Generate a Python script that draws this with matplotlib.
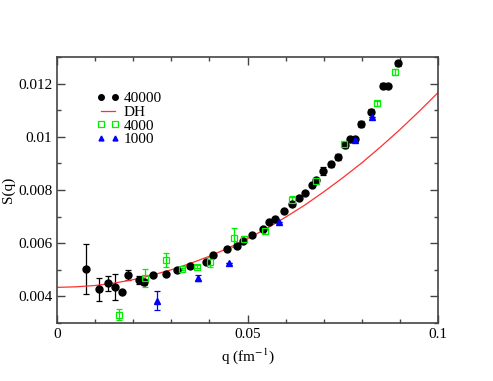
import matplotlib
matplotlib.use("Agg")
import matplotlib.pyplot as plt
from matplotlib.lines import Line2D
from matplotlib.ticker import MultipleLocator

# S(q), N = 40000
q40000 = [0.0075, 0.0109, 0.0133, 0.0152, 0.0171, 0.0187, 0.0216, 0.0228, 0.0253,
          0.0286, 0.0314, 0.0349, 0.0390, 0.0410, 0.0445, 0.0472, 0.0489, 0.0512,
          0.0540, 0.0556, 0.0571, 0.0596, 0.0616, 0.0635, 0.0651, 0.0670, 0.0680,
          0.0699, 0.0719, 0.0737, 0.0756, 0.0768, 0.0782, 0.0797, 0.0823, 0.0855,
          0.0868, 0.0894]
s40000 = [0.00503, 0.00427, 0.00449, 0.00436, 0.00418, 0.00480, 0.00462, 0.00454, 0.00480,
          0.00483, 0.00498, 0.00514, 0.00529, 0.00555, 0.00577, 0.00590, 0.00610, 0.00630,
          0.00652, 0.00679, 0.00692, 0.00721, 0.00747, 0.00769, 0.00790, 0.00818, 0.00838,
          0.00871, 0.00897, 0.00925, 0.00968, 0.00990, 0.00990, 0.01048, 0.01094, 0.01192,
          0.01192, 0.01276]
e40000 = [0.00094, 0.00044, 0.00028, 0.00050, 0.0, 0.00019, 0.00015, 0.0001, 0.0,
          0.0, 0.0, 0.0, 0.0, 0.0, 0.0, 0.0, 0.0, 0.0,
          0.0, 0.0, 0.0, 0.0, 0.00008, 0.0, 0.0, 0.00006, 0.0,
          0.00015, 0.0001, 0.00012, 0.0001, 0.0001, 0.0, 0.0001, 0.0001, 0.0001,
          0.0, 0.0001]

# N = 4000
q4000 = [0.0164, 0.0232, 0.0286, 0.0329, 0.0368, 0.0402, 0.0465, 0.0491, 0.0546,
         0.0616, 0.0680, 0.0754, 0.0839, 0.0886]
s4000 = [0.00331, 0.00469, 0.00537, 0.00503, 0.00512, 0.00530, 0.00620, 0.00617, 0.00646,
         0.00762, 0.00834, 0.00972, 0.01126, 0.01244]
e4000 = [0.0002, 0.00035, 0.00028, 0.00005, 0.00005, 0.0002, 0.00036, 0.0001, 0.0001,
         0.00015, 0.0001, 0.0001, 0.0001, 0.0001]

# N = 1000
q1000 = [0.0262, 0.0369, 0.0452, 0.0583, 0.0783, 0.0826]
s1000 = [0.00383, 0.00469, 0.00524, 0.00679, 0.00988, 0.01076]
e1000 = [0.00036, 0.0001, 0.0, 0.0, 0.0, 0.0]

# Debye-Hueckel curve, read at q steps of 0.005
q_dh = [0.0, 0.005, 0.01, 0.015, 0.02, 0.025, 0.03, 0.035, 0.04, 0.045, 0.05,
        0.055, 0.06, 0.065, 0.07, 0.075, 0.08, 0.085, 0.09, 0.095, 0.1]
s_dh = [0.00434, 0.00436, 0.00441, 0.00450, 0.00463, 0.00480, 0.00500, 0.00524, 0.00551,
        0.00582, 0.00617, 0.00655, 0.00698, 0.00743, 0.00793, 0.00846, 0.00902, 0.00963,
        0.01027, 0.01095, 0.01166]

plt.rcParams['font.family'] = ['Liberation Serif', 'DejaVu Serif']
plt.rcParams['mathtext.fontset'] = 'stix'

fig = plt.figure(figsize=(4.93, 3.81), dpi=100)
ax = fig.add_axes([57 / 493, 58 / 381, 381 / 493, 266 / 381])

ax.errorbar(q40000, s40000, yerr=e40000, fmt='o', color='black', ms=5,
            elinewidth=0.9, capsize=2, capthick=0.9)
ax.plot(q_dh, s_dh, color='#ff3030', lw=0.9)
ax.errorbar(q4000, s4000, yerr=e4000, fmt='s', color='#00ee00', mfc='none', ms=5,
            mew=0.9, elinewidth=0.9, capsize=2, capthick=0.9)
ax.errorbar(q1000, s1000, yerr=e1000, fmt='^', color='#0000ff', ms=4.5,
            elinewidth=0.9, capsize=2, capthick=0.9)

ax.set_xlim(0, 0.1)
ax.set_ylim(0.003, 0.013)
ax.xaxis.set_minor_locator(MultipleLocator(0.01))
ax.yaxis.set_minor_locator(MultipleLocator(0.001))
ax.set_xticks([0, 0.05, 0.1])
ax.set_xticklabels(['0', '0.05', '0.1'])
ax.set_yticks([0.004, 0.006, 0.008, 0.01, 0.012])
ax.set_yticklabels(['0.004', '0.006', '0.008', '0.01', '0.012'])
ax.tick_params(which='both', direction='in', top=True, right=True, labelsize=11,
               color='#444444', width=1)
ax.tick_params(which='major', length=6)
ax.tick_params(which='minor', length=3)
for sp in ax.spines.values():
    sp.set_color('#444444')
    sp.set_linewidth(1.2)

ax.set_xlabel('q (fm$^{-1}$)', fontsize=11, labelpad=4)
ax.set_ylabel('S(q)', fontsize=11, labelpad=2)

# legend shows markers only, in the reference order
handles = [
    Line2D([], [], ls='none', marker='o', color='black', ms=4),
    Line2D([], [], color='#ff3030', lw=0.9),
    Line2D([], [], ls='none', marker='s', color='#00ee00', mfc='none', ms=4, mew=0.9),
    Line2D([], [], ls='none', marker='^', color='#0000ff', ms=3.5),
]
ax.legend(handles, ['40000', 'DH', '4000', '1000'], loc='upper left',
          bbox_to_anchor=(0.103, 0.87), frameon=False, numpoints=2,
          handlelength=1.5, handletextpad=0.3, labelspacing=0.0, fontsize=11,
          borderaxespad=0, borderpad=0)

fig.savefig('out.png', dpi=100)
